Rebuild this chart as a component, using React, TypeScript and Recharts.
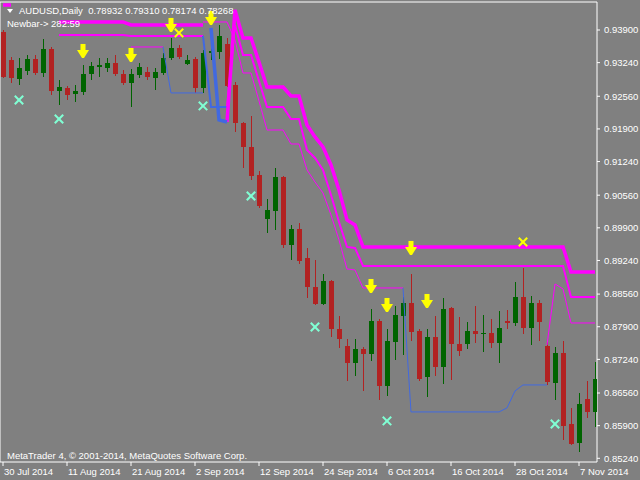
import React from "react";
import { ComposedChart, XAxis, YAxis, Bar, Line, Scatter, ReferenceArea } from "recharts";

const _ = null;

// x axis: one bar per trading day, labels every 8 bars
const DATE_BARS = [0, 8, 16, 24, 32, 40, 48, 56, 64, 72];
const DATE_LABELS = [
  "30 Jul 2014", "11 Aug 2014", "21 Aug 2014", "2 Sep 2014", "12 Sep 2014",
  "24 Sep 2014", "6 Oct 2014", "16 Oct 2014", "28 Oct 2014", "7 Nov 2014",
];

const PRICE_TICKS = [
  0.939, 0.9324, 0.9256, 0.919, 0.9124, 0.9056, 0.899,
  0.8924, 0.8856, 0.879, 0.8724, 0.8656, 0.859, 0.8524,
];

const OPEN = [
  0.9386, 0.93294, 0.9291, 0.93071, 0.93314, 0.93031, 0.93516, 0.92667, 0.92728, 0.92606,
  0.92647, 0.93011, 0.93152, 0.93132, 0.93233, 0.93011, 0.92829, 0.92991, 0.93051, 0.9293,
  0.93031, 0.93334, 0.93536, 0.93213, 0.93314, 0.92728, 0.93435, 0.93456, 0.93617, 0.92788,
  0.9202, 0.91535, 0.90969, 0.90079, 0.90241, 0.90928, 0.89553, 0.89877, 0.8929, 0.88704,
  0.8836, 0.88825, 0.87855, 0.87511, 0.87168, 0.87451, 0.87349, 0.88017, 0.86702, 0.87592,
  0.88118, 0.88381, 0.87815, 0.86884, 0.87693, 0.87087, 0.8828, 0.87552, 0.87552, 0.87815,
  0.87754, 0.87774, 0.87572, 0.88017, 0.87976, 0.88502, 0.87875, 0.88381, 0.87511, 0.86763,
  0.8737, 0.85934, 0.8555, 0.8644, 0.86177,
];
const HIGH = [
  0.939, 0.93355, 0.93334, 0.93395, 0.93395, 0.93718, 0.93557, 0.92889, 0.92768, 0.92788,
  0.93193, 0.93253, 0.93334, 0.93334, 0.93395, 0.93092, 0.93112, 0.93233, 0.93152, 0.93132,
  0.93435, 0.93739, 0.93597, 0.93395, 0.93355, 0.93496, 0.93941, 0.94002, 0.93739, 0.92849,
  0.9204, 0.92162, 0.9105, 0.90483, 0.9111, 0.90948, 0.89958, 0.89998, 0.89493, 0.8925,
  0.88967, 0.88846, 0.88118, 0.87653, 0.87653, 0.87491, 0.88259, 0.88057, 0.87855, 0.8832,
  0.88502, 0.88967, 0.87855, 0.87855, 0.88118, 0.88482, 0.88295, 0.88098, 0.87996, 0.8832,
  0.88138, 0.88057, 0.88219, 0.88239, 0.88805, 0.89088, 0.88522, 0.88441, 0.87592, 0.87491,
  0.87612, 0.86258, 0.86561, 0.86804, 0.87188,
];
const LOW = [
  0.9293, 0.92829, 0.92788, 0.92991, 0.92991, 0.9295, 0.92586, 0.92384, 0.92485, 0.92445,
  0.92586, 0.92889, 0.9295, 0.93051, 0.9297, 0.92788, 0.92344, 0.9293, 0.92889, 0.92687,
  0.92991, 0.93294, 0.93314, 0.93193, 0.92627, 0.92627, 0.93294, 0.93314, 0.92748, 0.91838,
  0.9111, 0.90868, 0.90301, 0.89796, 0.89857, 0.89493, 0.8925, 0.89169, 0.88482, 0.8834,
  0.88345, 0.87693, 0.87471, 0.86804, 0.86905, 0.86601, 0.87208, 0.86419, 0.865, 0.87228,
  0.87329, 0.87612, 0.86804, 0.8648, 0.86905, 0.86743, 0.86824, 0.87309, 0.87451, 0.87572,
  0.8739, 0.87471, 0.87168, 0.87855, 0.87916, 0.87754, 0.87531, 0.87612, 0.86723, 0.86419,
  0.85611, 0.8551, 0.85368, 0.86055, 0.85873,
];
const CLOSE = [
  0.9295, 0.9293, 0.93132, 0.93314, 0.93031, 0.93516, 0.92667, 0.92748, 0.92586, 0.92667,
  0.93011, 0.93173, 0.93193, 0.93233, 0.93011, 0.92829, 0.93011, 0.93152, 0.9295, 0.93051,
  0.93334, 0.93536, 0.93355, 0.93294, 0.92728, 0.93435, 0.93476, 0.93779, 0.92768, 0.9202,
  0.91535, 0.90948, 0.90342, 0.90261, 0.90928, 0.89553, 0.89877, 0.8923, 0.88704, 0.8836,
  0.88825, 0.87855, 0.87653, 0.87168, 0.87451, 0.87349, 0.88017, 0.86702, 0.87612, 0.88138,
  0.88381, 0.87794, 0.86844, 0.87693, 0.87087, 0.88259, 0.87552, 0.8741, 0.87815, 0.87754,
  0.87774, 0.87572, 0.87875, 0.87976, 0.88502, 0.87875, 0.88381, 0.87996, 0.86783, 0.8737,
  0.85894, 0.8553, 0.86339, 0.86177, 0.86844,
];

// trailing bands: magenta while above price, blue while below
const BAND1_UP = [
  0.94406, 0.94406, _, _, _, _, _, 0.94062, 0.94062, 0.94062,
  0.94062, 0.94062, 0.94062, 0.94062, 0.94062, 0.94062, 0.94002, 0.94002, 0.94002, 0.94002,
  0.94002, 0.94002, 0.94002, 0.94002, 0.94002, 0.94002, _, _, 0.9204, 0.94305,
  0.93739, 0.93739, 0.93253, 0.92748, 0.92748, 0.92748, 0.92566, 0.92566, 0.9198, 0.91737,
  0.91535, 0.91171, 0.90665, 0.90059, 0.89958, 0.89513, 0.89513, 0.89513, 0.89513, 0.89513,
  0.89513, 0.89513, 0.89513, 0.89513, 0.89513, 0.89513, 0.89513, 0.89513, 0.89513, 0.89513,
  0.89513, 0.89513, 0.89513, 0.89513, 0.89513, 0.89513, 0.89513, 0.89513, 0.89513, 0.89513,
  0.89513, 0.89007, 0.89007, 0.89007, 0.89007,
];
const BAND1_DN = [
  _, _, _, _, _, _, _, _, _, _,
  _, _, _, _, _, _, _, _, _, _,
  _, _, _, _, _, _, 0.93941, 0.92081, 0.9204, _,
];
const BAND2_UP = [
  _, _, _, _, _, _, _, 0.93799, 0.93799, 0.93799,
  0.93799, 0.93799, 0.93799, 0.93799, 0.93799, 0.93799, 0.93779, 0.93779, 0.93779, 0.93779,
  0.93779, 0.93779, 0.93779, 0.93779, 0.93779, 0.93779, _, _, 0.92344, 0.94002,
  0.93395, 0.93395, 0.92869, 0.92344, 0.92344, 0.92344, 0.92101, 0.92101, 0.91474, 0.91312,
  0.9107, 0.90564, 0.90018, 0.89513, 0.89493, 0.89129, 0.89129, 0.89129, 0.89129, 0.89129,
  0.89129, 0.89129, 0.89129, 0.89129, 0.89129, 0.89129, 0.89129, 0.89129, 0.89129, 0.89129,
  0.89129, 0.89129, 0.89129, 0.89129, 0.89129, 0.89129, 0.89129, 0.89129, 0.89129, 0.89129,
  0.89129, 0.88502, 0.88502, 0.88502, 0.88502,
];
const BAND2_DN = [
  _, _, _, _, _, _, _, _, _, _,
  _, _, _, _, _, _, _, _, _, _,
  _, _, _, _, _, 0.93779, 0.92344, 0.92344, 0.92344, _,
];
const BAND3_UP = [
  _, _, _, _, _, _, _, _, _, _,
  _, _, _, _, _, _, 0.93557, 0.93557, 0.93557, 0.93557,
  0.93557, _, _, _, _, 0.94062, 0.94062, 0.94062, 0.94062, 0.93698,
  0.93031, 0.93031, 0.92465, 0.91878, 0.91878, 0.91878, 0.91595, 0.91595, 0.9107, 0.90827,
  0.90605, 0.9016, 0.89654, 0.89068, 0.89048, 0.88684, 0.88684, 0.88684, 0.88684, 0.88684,
  0.88684, _, _, _, _, _, _, _, _, _,
  _, _, _, _, _, _, _, _, 0.87531, 0.88765,
  0.88664, 0.87976, 0.87976, 0.87976, 0.87976,
];
const BAND3_DN = [
  _, _, _, _, _, _, _, _, _, _,
  _, _, _, _, _, _, _, _, _, _,
  0.93557, 0.92627, 0.92627, 0.92627, 0.92627, 0.92627, _, _, _, _,
  _, _, _, _, _, _, _, _, _, _,
  _, _, _, _, _, _, _, _, _, _,
  0.88684, 0.86177, 0.86177, 0.86177, 0.86177, 0.86177, 0.86177, 0.86177, 0.86177, 0.86177,
  0.86177, 0.86177, 0.86177, 0.86258, 0.86601, 0.86723, 0.86723, 0.86723, 0.86723, _,
];

const ARROW_BARS = [10, 16, 21, 26, 46, 48, 51, 53];
const ARROW_PRICES = [0.93476, 0.93395, 0.94002, 0.94143, 0.88724, 0.8834, 0.89493, 0.88421];
const CROSS_BARS = [2, 7, 25, 31, 39, 48, 69];
const CROSS_PRICES = [0.92485, 0.92101, 0.92364, 0.90544, 0.87895, 0.85995, 0.85934];
const YCROSS_BARS = [22, 65];
const YCROSS_PRICES = [0.9384, 0.89614];

const X_DOMAIN = [-0.375, 74.25];
const Y_DOMAIN = [0.85165, 0.94466];
const BG = "#808080";
const UP = "#006400";
const DOWN = "#b22222";
const MAGENTA = "#ff00ff";
const BLUE = "#4169e1";
const FONT = "'Liberation Sans', Arial, sans-serif";

const data = OPEN.map((o, i) => ({
  i,
  open: o,
  high: HIGH[i],
  low: LOW[i],
  close: CLOSE[i],
  range: [LOW[i], HIGH[i]],
  b1u: BAND1_UP[i] ?? null,
  b1d: BAND1_DN[i] ?? null,
  b2u: BAND2_UP[i] ?? null,
  b2d: BAND2_DN[i] ?? null,
  b3u: BAND3_UP[i] ?? null,
  b3d: BAND3_DN[i] ?? null,
}));

const arrows = ARROW_BARS.map((i, k) => ({ i, p: ARROW_PRICES[k] }));
const crosses = CROSS_BARS.map((i, k) => ({ i, p: CROSS_PRICES[k] }));
const yCrosses = YCROSS_BARS.map((i, k) => ({ i, p: YCROSS_PRICES[k] }));

const Candle = (props: any) => {
  const { x, y, width, height, payload } = props;
  if (x == null || y == null) return null;
  const { open, close, high, low } = payload;
  const color = close >= open ? UP : DOWN;
  const top = Math.min(y, y + height);
  const h = Math.abs(height);
  const py = (v: number) => top + ((high - v) / (high - low)) * h;
  const cx = Math.round(x + width / 2) + 0.5;
  const bTop = py(Math.max(open, close));
  const bBot = py(Math.min(open, close));
  return (
    <g shapeRendering="crispEdges">
      <line x1={cx} x2={cx} y1={top} y2={top + h} stroke={color} strokeWidth={1} />
      <rect x={cx - 2.5} y={bTop} width={5} height={Math.max(1, bBot - bTop)} fill={color} />
    </g>
  );
};

const Arrow = (props: any) => {
  const { cx, cy } = props;
  if (cx == null || cy == null) return null;
  return (
    <g>
      <rect x={cx - 2.5} y={cy - 7} width={5} height={7} fill="#ffff00" />
      <polygon
        points={`${cx - 6},${cy - 1} ${cx + 6},${cy - 1} ${cx + 1},${cy + 7} ${cx - 1},${cy + 7}`}
        fill="#ffff00"
      />
    </g>
  );
};

const makeCross = (color: string) => (props: any) => {
  const { cx, cy } = props;
  if (cx == null || cy == null) return null;
  const s = 3.5;
  return (
    <g stroke={color} strokeWidth={2} strokeLinecap="square">
      <line x1={cx - s} y1={cy - s} x2={cx + s} y2={cy + s} />
      <line x1={cx - s} y1={cy + s} x2={cx + s} y2={cy - s} />
    </g>
  );
};
const CyanCross = makeCross("#80ffd4");
const YellowCross = makeCross("#ffff00");

const DateTick = (props: any) => {
  const { x, y, payload } = props;
  const idx = DATE_BARS.indexOf(payload.value);
  return (
    <text x={x + 1} y={y + 7} fill="#ffffff" fontSize={9.5} fontFamily={FONT} textAnchor="start">
      {idx >= 0 ? DATE_LABELS[idx] : ""}
    </text>
  );
};

export default function App() {
  return (
    <div style={{ position: "absolute", left: 0, top: 0, width: 640, height: 480, background: BG }}>
      <ComposedChart
        width={640}
        height={480}
        data={data}
        margin={{ top: 2, right: 0, bottom: 0, left: 0 }}
      >
        <XAxis
          dataKey="i"
          type="number"
          domain={X_DOMAIN}
          allowDataOverflow
          ticks={DATE_BARS}
          interval={0}
          height={18}
          axisLine={false}
          tickLine={{ stroke: "#ffffff" }}
          tickSize={4}
          tick={<DateTick />}
        />
        <YAxis
          orientation="right"
          type="number"
          domain={Y_DOMAIN}
          allowDataOverflow
          ticks={PRICE_TICKS}
          interval={0}
          width={43}
          axisLine={false}
          tickLine={{ stroke: "#ffffff" }}
          tickSize={3}
          tickMargin={4}
          tickFormatter={(v: number) => v.toFixed(5)}
          tick={{ fill: "#ffffff", fontSize: 9.5, fontFamily: FONT }}
        />
        <ReferenceArea
          x1={X_DOMAIN[0]}
          x2={X_DOMAIN[1]}
          y1={Y_DOMAIN[0]}
          y2={Y_DOMAIN[1]}
          fill="none"
          stroke="#ffffff"
          strokeWidth={1}
        />
        <Bar dataKey="range" barSize={5} shape={<Candle />} isAnimationActive={false} />
        <Line dataKey="b3u" stroke={MAGENTA} strokeWidth={1} dot={false} isAnimationActive={false} />
        <Line dataKey="b3d" stroke={BLUE} strokeWidth={1} dot={false} isAnimationActive={false} />
        <Line dataKey="b2u" stroke={MAGENTA} strokeWidth={2} dot={false} isAnimationActive={false} />
        <Line dataKey="b2d" stroke={BLUE} strokeWidth={2} dot={false} isAnimationActive={false} />
        <Line dataKey="b1u" stroke={MAGENTA} strokeWidth={3.5} dot={false} isAnimationActive={false} />
        <Line dataKey="b1d" stroke={BLUE} strokeWidth={3.5} dot={false} isAnimationActive={false} />
        <Scatter data={arrows} dataKey="p" shape={<Arrow />} isAnimationActive={false} />
        <Scatter data={crosses} dataKey="p" shape={<CyanCross />} isAnimationActive={false} />
        <Scatter data={yCrosses} dataKey="p" shape={<YellowCross />} isAnimationActive={false} />
      </ComposedChart>
      <svg
        width={640}
        height={480}
        style={{ position: "absolute", left: 0, top: 0, pointerEvents: "none" }}
      >
        <polygon points="7,9 13,9 10,13" fill="#ffffff" />
        <text x={19} y={14} fill="#ffffff" fontSize={9.5} fontFamily={FONT} style={{ whiteSpace: "pre" }}>
          {"AUDUSD,Daily  0.78932 0.79310 0.78174 0.78268"}
        </text>
        <text x={7} y={27} fill="#ffffff" fontSize={9.5} fontFamily={FONT} style={{ whiteSpace: "pre" }}>
          {"Newbar-> 282:59"}
        </text>
        <text x={7} y={459} fill="#ffffff" fontSize={9.5} fontFamily={FONT}>
          MetaTrader 4, © 2001-2014, MetaQuotes Software Corp.
        </text>
      </svg>
    </div>
  );
}
